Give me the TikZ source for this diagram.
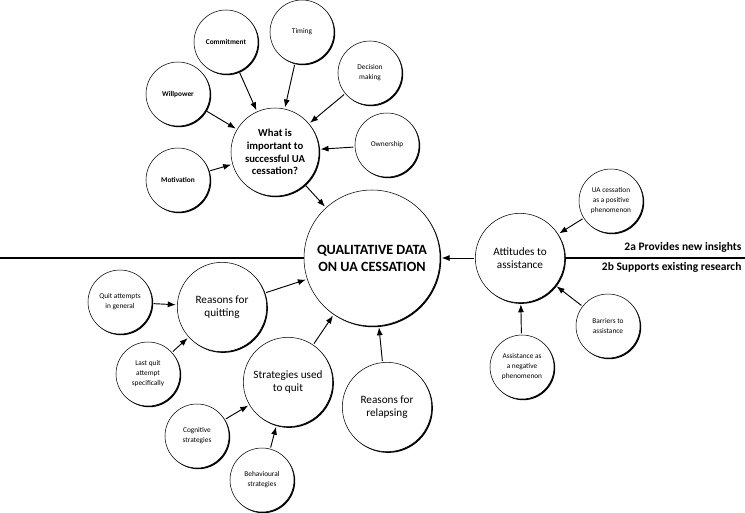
\documentclass[tikz,border=0pt]{standalone}
\usepackage{fontspec}
\setmainfont{Carlito}
\usepackage{tikz}
\usetikzlibrary{arrows.meta, positioning, shadows}

\begin{document}
\begin{tikzpicture}[
  on grid,
  bubble/.style={circle, draw=black, line width=0.4pt, fill=white, align=center,
                 inner sep=1pt,
                 drop shadow={shadow xshift=0.9pt, shadow yshift=-0.9pt, opacity=1, fill=black}},
  core/.style={bubble, minimum size=102pt, font=\fontsize{10.6}{12.8}\selectfont\bfseries},
  hub/.style={bubble, minimum size=67pt, font=\fontsize{8.4}{9.75}\selectfont},
  qhub/.style={bubble, minimum size=66pt, font=\fontsize{8}{9.5}\selectfont\bfseries},
  leaf/.style={bubble, minimum size=48pt, font=\fontsize{5.5}{7.5}\selectfont},
  bleaf/.style={leaf, font=\fontsize{5.5}{7.5}\selectfont\bfseries},
  note/.style={inner sep=1pt, font=\fontsize{8.6}{10}\selectfont\bfseries},
  arr/.style={-{Latex[length=6pt, width=4.5pt]}, line width=0.7pt,
              shorten <=1pt, shorten >=1pt},
  rule/.style={line width=0.9pt},
]
\useasboundingbox (-279pt,-190.5pt) rectangle (279.75pt,193.5pt);

% Dividing line
\coordinate (lend) at (-279pt,0);
\coordinate (rend) at (279.75pt,0);
\draw[rule] (lend) -- (0,0);

% Centre
\node[core] (qual) at (0,0) {QUALITATIVE DATA\\ON UA CESSATION};

% What is important (top)
\node[qhub, above left=79.5pt and 72.75pt of qual] (what) {What is\\important to\\successful UA\\cessation?};
\node[bleaf, above left=82.5pt and 36.75pt of what] (commit) {Commitment};
\node[leaf, above right=90pt and 20.25pt of what] (timing) {Timing};
\node[leaf, above right=59.25pt and 71.25pt of what] (decide) {Decision\\making};
\node[bleaf, above left=43.5pt and 72.75pt of what] (will) {Willpower};
\node[leaf, above right=5.25pt and 84pt of what] (own) {Ownership};
\node[bleaf, below left=21pt and 72.75pt of what] (motiv) {Motivation};

% Reasons and strategies (bottom left)
\node[hub, below left=36.75pt and 112.5pt of qual] (quit) {Reasons for\\quitting};
\node[leaf, above left=3.75pt and 76.5pt of quit] (general) {Quit attempts\\in general};
\node[leaf, below left=50.25pt and 55.5pt of quit] (last) {Last quit\\attempt\\specifically};
\node[hub, below left=93pt and 63pt of qual] (strat) {Strategies used\\to quit};
\node[leaf, below left=40.5pt and 68.25pt of strat] (cogn) {Cognitive\\strategies};
\node[leaf, below left=73.5pt and 19.5pt of strat] (behav) {Behavioural\\strategies};
\node[hub, below right=111.75pt and 11.25pt of qual] (relapse) {Reasons for\\relapsing};

% Attitudes (right)
\node[hub, right=111pt of qual] (att) {Attitudes to\\assistance};
\node[leaf, above right=42.75pt and 68.25pt of att] (pos) {UA cessation\\as a positive\\phenomenon};
\node[leaf, below right=51pt and 66pt of att] (barr) {Barriers to\\assistance};
\node[leaf, below right=81.75pt and 1.5pt of att] (neg) {Assistance as\\a negative\\phenomenon};

% Right line and labels
\draw[rule] (att) -- (rend);
\node[note, anchor=south east, xshift=-1.5pt, yshift=3pt] (insight) at (rend) {2a Provides new insights};
\node[note, anchor=north east, xshift=-1.5pt, yshift=-2pt] (support) at (rend) {2b Supports existing research};

% Arrows into hubs
\draw[arr] (commit) -- (what);
\draw[arr] (timing) -- (what);
\draw[arr] (decide) -- (what);
\draw[arr] (will) -- (what);
\draw[arr] (own) -- (what);
\draw[arr] (motiv) -- (what);
\draw[arr] (general) -- (quit);
\draw[arr] (last) -- (quit);
\draw[arr] (cogn) -- (strat);
\draw[arr] (behav) -- (strat);
\draw[arr] (pos) -- (att);
\draw[arr] (barr) -- (att);
\draw[arr] (neg) -- (att);

% Arrows into centre
\draw[arr] (what) -- (qual);
\draw[arr] (quit) -- (qual);
\draw[arr] (strat) -- (qual);
\draw[arr] (relapse) -- (qual);
\draw[arr] (att) -- (qual);

\end{tikzpicture}
\end{document}
